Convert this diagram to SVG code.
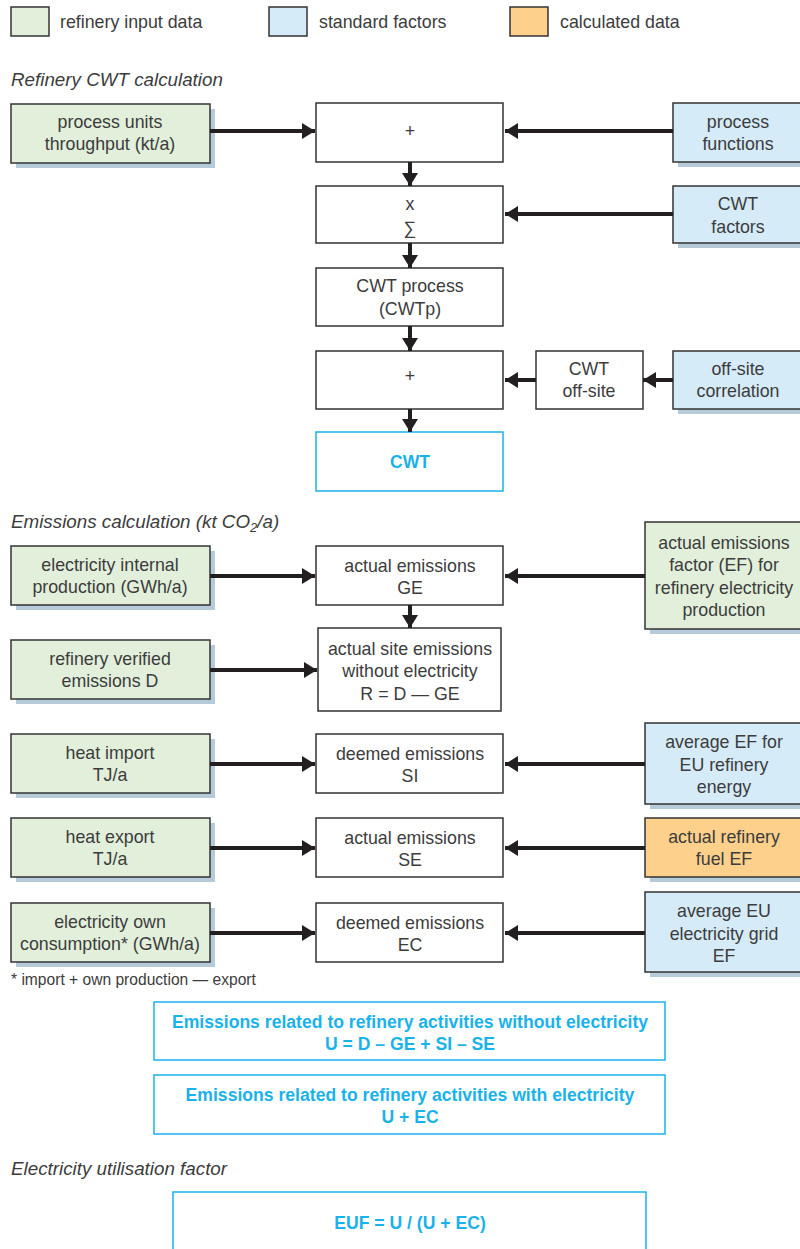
<svg xmlns="http://www.w3.org/2000/svg" width="800" height="1249" viewBox="0 0 800 1249">
<defs>
<marker id="ah" markerUnits="userSpaceOnUse" markerWidth="14" markerHeight="16" refX="13" refY="8" orient="auto">
<path d="M0,0 L13,8 L0,16 Z" fill="#231f20"/>
</marker>
</defs>
<style>
text{font-family:"Liberation Sans",Arial,sans-serif;font-size:17.8px;fill:#3c3c3c;text-anchor:middle}
.l{text-anchor:start}
.h{font-style:italic;font-size:18.8px;text-anchor:start}
.g{fill:#e2efdb;stroke:#333;stroke-width:1.5}
.b{fill:#d6ebf8;stroke:#333;stroke-width:1.5}
.o{fill:#fdd08b;stroke:#333;stroke-width:1.5}
.w{fill:#fff;stroke:#333;stroke-width:1.5}
.c{fill:#fff;stroke:#1ab2ea;stroke-width:1.5}
.s{fill:#b6cbd9}
.ct{fill:#1ab2ea;font-weight:bold;font-size:17.6px}
.f{font-size:15.6px}
#connectors line{stroke:#231f20;stroke-width:4;marker-end:url(#ah)}
</style>
<rect width="800" height="1249" fill="#fff"/>

<g id="legend">
<rect class="g" x="11" y="7" width="38" height="29"/>
<text class="l" x="60" y="28">refinery input data</text>
<rect class="b" x="269" y="7" width="38" height="29"/>
<text class="l" x="319" y="28">standard factors</text>
<rect class="o" x="510" y="7" width="38" height="29"/>
<text class="l" x="560" y="28">calculated data</text>
</g>

<text class="h" x="11" y="86">Refinery CWT calculation</text>

<g id="n-throughput"><rect class="s" x="16" y="109" width="199" height="59"/><rect class="g" x="11" y="104" width="199" height="59"/><text x="110" y="128">process units</text><text x="110" y="150">throughput (kt/a)</text></g>
<g id="n-plus1"><rect class="w" x="316" y="103" width="187" height="59"/><text x="410" y="137">+</text></g>
<g id="n-procfunc"><rect class="s" x="678" y="108" width="122" height="59"/><rect class="b" x="673" y="103" width="130" height="59"/><text x="738" y="128">process</text><text x="738" y="150">functions</text></g>

<g id="n-xsum"><rect class="w" x="316" y="186" width="187" height="57"/><text x="410" y="210">x</text><text x="410" y="234">∑</text></g>
<g id="n-cwtfactors"><rect class="s" x="678" y="191" width="122" height="57"/><rect class="b" x="673" y="186" width="130" height="57"/><text x="738" y="210">CWT</text><text x="738" y="233">factors</text></g>

<g id="n-cwtp"><rect class="w" x="316" y="268" width="187" height="58"/><text x="410" y="292">CWT process</text><text x="410" y="315">(CWTp)</text></g>

<g id="n-plus2"><rect class="w" x="316" y="351" width="187" height="58"/><text x="410" y="382">+</text></g>
<g id="n-cwtoff"><rect class="w" x="536" y="351" width="107" height="58"/><text x="589" y="375">CWT</text><text x="589" y="397">off-site</text></g>
<g id="n-offcorr"><rect class="s" x="678" y="356" width="122" height="58"/><rect class="b" x="673" y="351" width="130" height="58"/><text x="738" y="375">off-site</text><text x="738" y="397">correlation</text></g>

<g id="n-cwt"><rect class="c" x="316" y="432" width="187" height="59"/><text class="ct" x="410" y="468">CWT</text></g>

<text class="h" x="11" y="528">Emissions calculation (kt CO<tspan font-size="13" dy="4">2</tspan><tspan dy="-4">/a)</tspan></text>

<g id="n-elecint"><rect class="s" x="16" y="551" width="199" height="59"/><rect class="g" x="11" y="546" width="199" height="59"/><text x="110" y="571">electricity internal</text><text x="110" y="593">production (GWh/a)</text></g>
<g id="n-ge"><rect class="w" x="316" y="546" width="187" height="59"/><text x="410" y="572">actual emissions</text><text x="410" y="594">GE</text></g>
<g id="n-actef"><rect class="s" x="650" y="527" width="150" height="107"/><rect class="g" x="645" y="522" width="158" height="107"/><text x="724" y="549">actual emissions</text><text x="724" y="571">factor (EF) for</text><text x="724" y="594">refinery electricity</text><text x="724" y="616">production</text></g>

<g id="n-verified"><rect class="s" x="16" y="645" width="199" height="59"/><rect class="g" x="11" y="640" width="199" height="59"/><text x="110" y="665">refinery verified</text><text x="110" y="687">emissions D</text></g>
<g id="n-r"><rect class="w" x="318" y="628" width="183" height="83"/><text x="410" y="655">actual site emissions</text><text x="410" y="677">without electricity</text><text x="410" y="700">R = D — GE</text></g>

<g id="n-heatimp"><rect class="s" x="16" y="739" width="199" height="59"/><rect class="g" x="11" y="734" width="199" height="59"/><text x="110" y="759">heat import</text><text x="110" y="781">TJ/a</text></g>
<g id="n-si"><rect class="w" x="316" y="734" width="187" height="59"/><text x="410" y="760">deemed emissions</text><text x="410" y="782">SI</text></g>
<g id="n-avgef"><rect class="s" x="650" y="728" width="150" height="81"/><rect class="b" x="645" y="723" width="158" height="81"/><text x="724" y="748">average EF for</text><text x="724" y="771">EU refinery</text><text x="724" y="793">energy</text></g>

<g id="n-heatexp"><rect class="s" x="16" y="823" width="199" height="59"/><rect class="g" x="11" y="818" width="199" height="59"/><text x="110" y="843">heat export</text><text x="110" y="865">TJ/a</text></g>
<g id="n-se"><rect class="w" x="316" y="818" width="187" height="59"/><text x="410" y="844">actual emissions</text><text x="410" y="866">SE</text></g>
<g id="n-fuelef"><rect class="s" x="650" y="823" width="150" height="59"/><rect class="o" x="645" y="818" width="158" height="59"/><text x="724" y="843">actual refinery</text><text x="724" y="865">fuel EF</text></g>

<g id="n-elecown"><rect class="s" x="16" y="908" width="199" height="59"/><rect class="g" x="11" y="903" width="199" height="59"/><text x="110" y="928">electricity own</text><text x="110" y="950">consumption* (GWh/a)</text></g>
<g id="n-ec"><rect class="w" x="316" y="903" width="187" height="59"/><text x="410" y="929">deemed emissions</text><text x="410" y="951">EC</text></g>
<g id="n-gridef"><rect class="s" x="650" y="897" width="150" height="80"/><rect class="b" x="645" y="892" width="158" height="80"/><text x="724" y="917">average EU</text><text x="724" y="940">electricity grid</text><text x="724" y="962">EF</text></g>

<text class="l f" x="11" y="985">* import + own production — export</text>

<g id="n-u"><rect class="c" x="154" y="1002" width="511" height="58"/><text class="ct" x="410" y="1028">Emissions related to refinery activities without electricity</text><text class="ct" x="410" y="1050">U = D – GE + SI – SE</text></g>
<g id="n-uec"><rect class="c" x="154" y="1075" width="511" height="59"/><text class="ct" x="410" y="1101">Emissions related to refinery activities with electricity</text><text class="ct" x="410" y="1123">U + EC</text></g>

<text class="h" x="11" y="1175">Electricity utilisation factor</text>

<g id="n-euf"><rect class="c" x="173" y="1192" width="473" height="70"/><text class="ct" x="410" y="1229">EUF = U / (U + EC)</text></g>

<g id="connectors">
<line x1="210" y1="131" x2="315" y2="131"/>
<line x1="673" y1="131" x2="505" y2="131"/>
<line x1="410" y1="162" x2="410" y2="186"/>
<line x1="673" y1="214" x2="505" y2="214"/>
<line x1="410" y1="243" x2="410" y2="268"/>
<line x1="410" y1="326" x2="410" y2="351"/>
<line x1="536" y1="380" x2="505" y2="380"/>
<line x1="673" y1="380" x2="643" y2="380"/>
<line x1="410" y1="409" x2="410" y2="432"/>
<line x1="210" y1="576" x2="315" y2="576"/>
<line x1="645" y1="576" x2="505" y2="576"/>
<line x1="410" y1="605" x2="410" y2="628"/>
<line x1="210" y1="670" x2="317" y2="670"/>
<line x1="210" y1="764" x2="315" y2="764"/>
<line x1="645" y1="764" x2="505" y2="764"/>
<line x1="210" y1="848" x2="315" y2="848"/>
<line x1="645" y1="848" x2="505" y2="848"/>
<line x1="210" y1="933" x2="315" y2="933"/>
<line x1="645" y1="933" x2="505" y2="933"/>
</g>
</svg>
